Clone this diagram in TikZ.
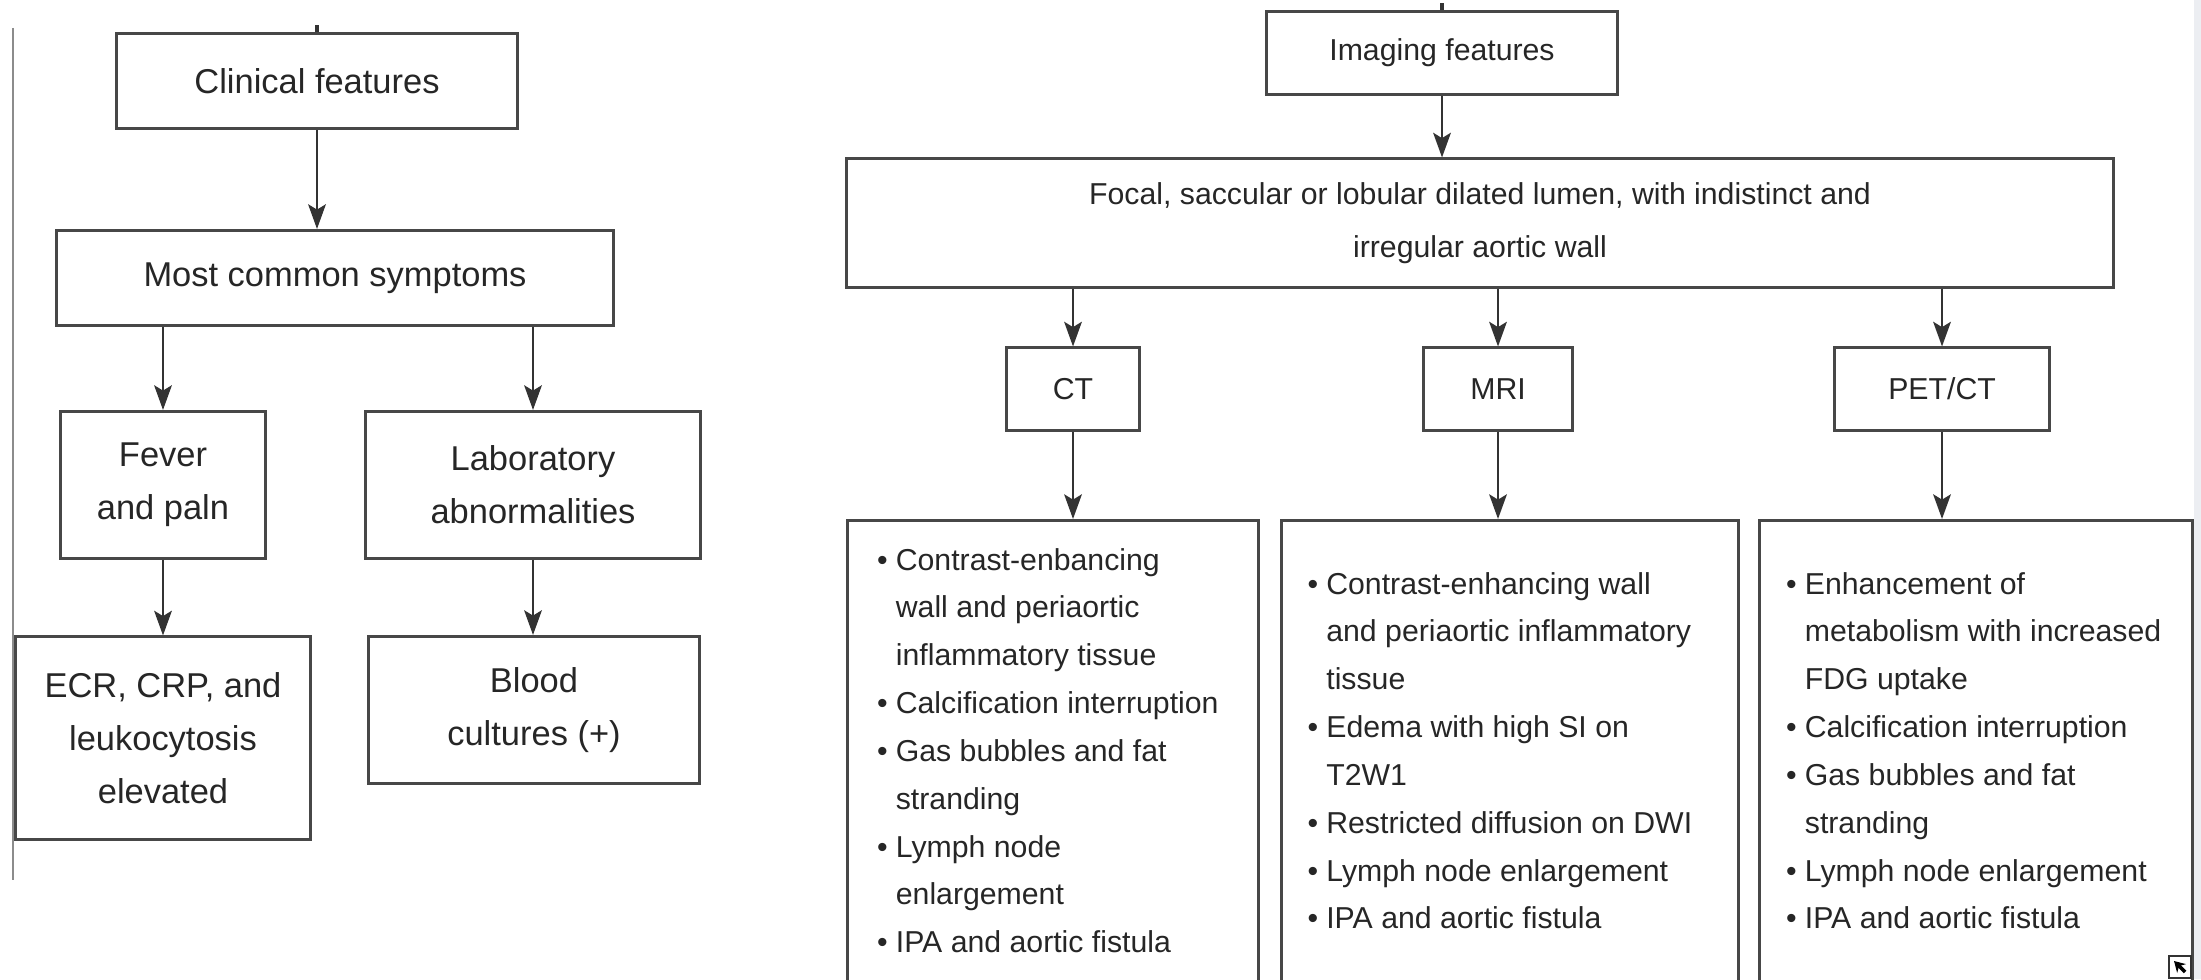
\documentclass[tikz,border=0pt]{standalone}
\usepackage{fontspec}
\setmainfont{Liberation Sans}
\usetikzlibrary{arrows.meta}
\definecolor{bandgray}{RGB}{236,238,242}
\newcommand{\bul}{\makebox[0.62em][l]{\textbullet}}
\newcommand{\nob}{\hspace*{0.62em}}

\begin{document}
\begin{tikzpicture}[
  x=0.01cm, y=-0.01cm,
  box/.style={draw=black!72, line width=0.85pt, text=black!85, align=center, inner sep=0pt},
  lbox/.style={box, font=\fontsize{9.8}{15}\selectfont},
  rbox/.style={box, font=\fontsize{8.6}{15}\selectfont},
  listtxt/.style={anchor=west, align=left, inner sep=0pt, text=black!85, font=\fontsize{8.6}{13.6}\selectfont},
  arr/.style={draw=black!80, line width=0.8pt, -{Stealth[length=7pt,width=5pt,inset=1.5pt]}}
]
\useasboundingbox (0,0) rectangle (2201,979);
\clip (0,0) rectangle (2201,979);

% clinical side
\draw[black!45, line width=0.6pt] (13,28) -- (13,880);
\node[lbox, minimum width=4cm, minimum height=0.94cm] (clin) at (317,81) {Clinical features};
\node[lbox, minimum width=5.56cm, minimum height=0.95cm] (mcs) at (335,278) {Most common symptoms};
\node[lbox, minimum width=2.05cm, minimum height=1.47cm] (fever) at (163,485) {Fever\\and paln};
\node[lbox, minimum width=3.34cm, minimum height=1.47cm] (lab) at (533,485) {Laboratory\\abnormalities};
\node[lbox, minimum width=2.94cm, minimum height=2.02cm] (ecr) at (163,738) {ECR, CRP, and\\leukocytosis\\elevated};
\node[lbox, minimum width=3.31cm, minimum height=1.47cm] (blood) at (534,710) {Blood\\cultures (+)};

\draw[line width=1.2pt, black!80] (clin.north) -- ++(0,-7);
\draw[arr] (clin) -- (clin |- mcs.north);
\draw[arr] (fever |- mcs.south) -- (fever);
\draw[arr] (lab |- mcs.south) -- (lab);
\draw[arr] (fever) -- (fever |- ecr.north);
\draw[arr] (lab) -- (lab |- blood.north);

% imaging side
\node[rbox, minimum width=3.51cm, minimum height=0.83cm] (img) at (1442,53) {Imaging features};
\node[rbox, minimum width=12.66cm, minimum height=1.28cm] (focal) at (1480,223)
  {Focal, saccular or lobular dilated lumen, with indistinct and\\irregular aortic wall};
\node[rbox, minimum width=1.33cm, minimum height=0.82cm] (ct) at (1073,389) {CT};
\node[rbox, minimum width=1.49cm, minimum height=0.82cm] (mri) at (1498,389) {MRI};
\node[rbox, minimum width=2.14cm, minimum height=0.82cm] (pet) at (1942,389) {PET/CT};

\node[box, anchor=north, minimum width=4.10cm, minimum height=4.70cm] (ctlist) at (1053,519) {};
\node[box, anchor=north, minimum width=4.57cm, minimum height=4.70cm] (mrilist) at (1510,519) {};
\node[box, anchor=north, minimum width=4.32cm, minimum height=4.70cm] (petlist) at (1976,519) {};

\node[listtxt] (cttxt) at ([xshift=0.30cm, yshift=0.05cm]ctlist.west)
  {\bul Contrast-enbancing\\ \nob wall and periaortic\\ \nob inflammatory tissue\\
   \bul Calcification interruption\\ \bul Gas bubbles and fat\\ \nob stranding\\
   \bul Lymph node\\ \nob enlargement\\ \bul IPA and aortic fistula};
\node[listtxt] (mritxt) at ([xshift=0.27cm, yshift=0.05cm]mrilist.west)
  {\bul Contrast-enhancing wall\\ \nob and periaortic inflammatory\\ \nob tissue\\
   \bul Edema with high SI on\\ \nob T2W1\\ \bul Restricted diffusion on DWI\\
   \bul Lymph node enlargement\\ \bul IPA and aortic fistula};
\node[listtxt] (pettxt) at ([xshift=0.27cm, yshift=0.05cm]petlist.west)
  {\bul Enhancement of\\ \nob metabolism with increased\\ \nob FDG uptake\\
   \bul Calcification interruption\\ \bul Gas bubbles and fat\\ \nob stranding\\
   \bul Lymph node enlargement\\ \bul IPA and aortic fistula};

\draw[line width=1.2pt, black!80] (img.north) -- ++(0,-7);
\draw[arr] (img) -- (img |- focal.north);
\foreach \a/\b in {ct/ctlist, mri/mrilist, pet/petlist} {
  \draw[arr] (\a |- focal.south) -- (\a);
  \draw[arr] (\a) -- (\a |- \b.north);
}

% page edge
\fill[bandgray] (2194,0) rectangle (2201,979);
\node[draw=black!80, line width=0.8pt, minimum size=0.22cm, inner sep=0pt] (icon) at (2180,967) {};
\draw[line width=1pt, -{Stealth[length=3pt,width=3.5pt]}] ([shift={(5,5)}]icon.center) -- ([shift={(-6,-6)}]icon.center);
\end{tikzpicture}
\end{document}
